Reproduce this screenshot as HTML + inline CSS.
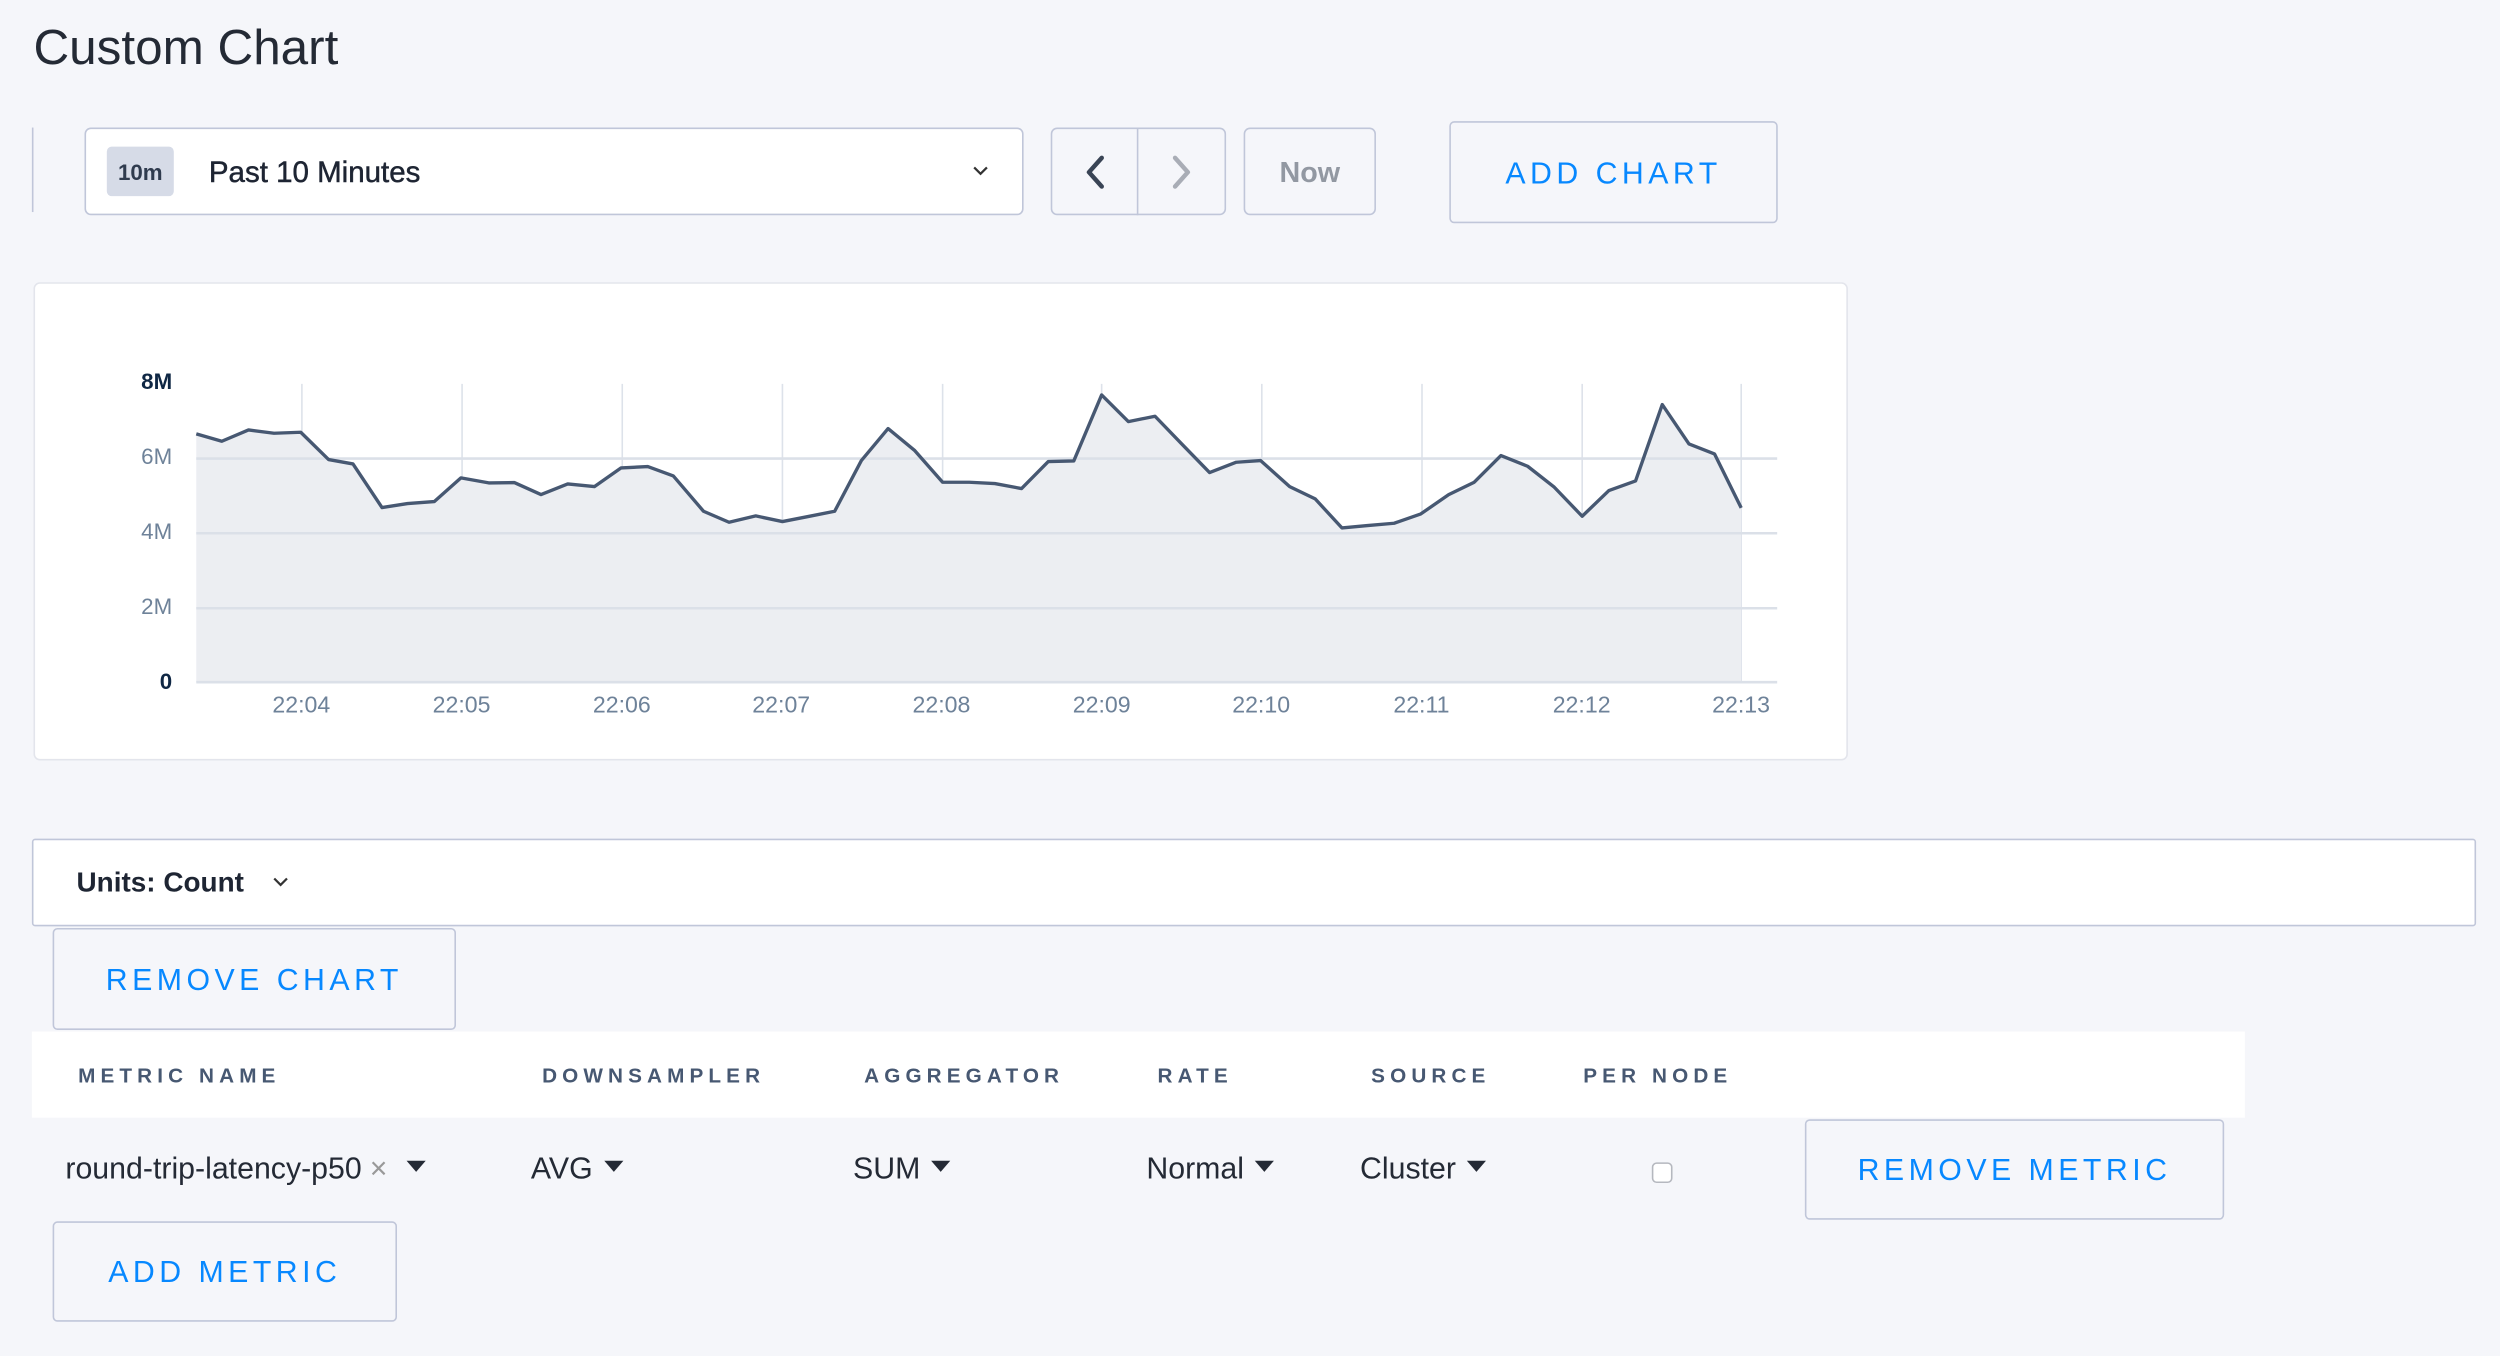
<!DOCTYPE html>
<html><head><meta charset="utf-8"><style>
html,body{margin:0;padding:0;background:#f5f6fa;}
body{width:2500px;height:1356px;overflow:hidden;}
#root{position:absolute;left:0;top:0;width:1568px;height:850.5px;transform:scale(1.5944);transform-origin:0 0;font-family:"Liberation Sans",sans-serif;color:#242a35;}
.a{position:absolute;}
.box{position:absolute;box-sizing:border-box;border:1px solid #c0c6d9;border-radius:4px;}
.btn{position:absolute;box-sizing:border-box;border:1px solid #c0c6d9;border-radius:3px;color:#0788ff;font-size:19px;letter-spacing:2.8px;display:flex;align-items:center;justify-content:center;padding-top:3px;}
.hd{position:absolute;top:667px;font-size:13px;font-weight:bold;letter-spacing:3.2px;color:#475872;}
.cell{position:absolute;top:723px;font-size:19px;color:#242a35;}
.car{display:inline-block;width:0;height:0;border-left:6px solid transparent;border-right:6px solid transparent;border-top:7px solid #242a35;vertical-align:middle;margin-left:7px;position:relative;top:-2px;}
.yl{position:absolute;width:40px;left:68px;text-align:right;font-size:14px;color:#6e8299;line-height:14px;}
.xl{position:absolute;top:435px;width:60px;text-align:center;font-size:14.5px;color:#6e8299;}
</style></head><body><div id="root">
<div class="a" style="left:21px;top:12px;font-size:31px;color:#242a35;">Custom Chart</div>
<div class="a" style="left:20px;top:80px;width:1px;height:53px;background:#c0c6d9;"></div>
<div class="box" style="left:53px;top:80px;width:589px;height:55px;background:#fff;"></div>
<div class="a" style="left:67px;top:92px;width:42px;height:31px;background:#d6dbe7;border-radius:3px;font-size:14px;font-weight:bold;color:#2f3b4e;display:flex;align-items:center;justify-content:center;">10m</div>
<div class="a" style="left:131px;top:97px;font-size:18.5px;color:#1e2533;-webkit-text-stroke:0.3px #1e2533;">Past 10 Minutes</div>
<svg class="a" style="left:609px;top:102px" width="12" height="10"><polyline points="2,3 6,7 10,3" fill="none" stroke="#333" stroke-width="1.4"/></svg>
<div class="box" style="left:659px;top:80px;width:110px;height:55px;"></div>
<div class="a" style="left:713px;top:80px;width:1px;height:55px;background:#c0c6d9;"></div>
<svg class="a" style="left:676px;top:96px" width="22" height="24"><polyline points="15,3 7,12 15,21" fill="none" stroke="#394455" stroke-width="2.8" stroke-linecap="round" stroke-linejoin="round"/></svg>
<svg class="a" style="left:730px;top:96px" width="22" height="24"><polyline points="7,3 15,12 7,21" fill="none" stroke="#a9adb6" stroke-width="2.8" stroke-linecap="round" stroke-linejoin="round"/></svg>
<div class="box" style="left:780px;top:80px;width:83px;height:55px;display:flex;align-items:center;justify-content:center;font-size:18px;font-weight:bold;color:#9298a2;padding-top:1px;">Now</div>
<div class="btn" style="left:909px;top:76px;width:206px;height:64px;">ADD CHART</div>

<div class="a" style="left:21px;top:177px;width:1138px;height:300px;box-sizing:border-box;background:#fff;border:1px solid #e3e5ec;border-radius:4px;"></div>
<svg class="a" style="left:18.8px;top:175.6px" width="1141.5" height="301" viewBox="0 0 1568 1440" preserveAspectRatio="none">
<g stroke="#dde2ea" stroke-width="1">
<line x1="234" y1="310" x2="234" y2="1205" vector-effect="non-scaling-stroke"/>
<line x1="372" y1="310" x2="372" y2="1205" vector-effect="non-scaling-stroke"/>
<line x1="510" y1="310" x2="510" y2="1205" vector-effect="non-scaling-stroke"/>
<line x1="648" y1="310" x2="648" y2="1205" vector-effect="non-scaling-stroke"/>
<line x1="786" y1="310" x2="786" y2="1205" vector-effect="non-scaling-stroke"/>
<line x1="923" y1="310" x2="923" y2="1205" vector-effect="non-scaling-stroke"/>
<line x1="1061" y1="310" x2="1061" y2="1205" vector-effect="non-scaling-stroke"/>
<line x1="1199" y1="310" x2="1199" y2="1205" vector-effect="non-scaling-stroke"/>
<line x1="1337" y1="310" x2="1337" y2="1205" vector-effect="non-scaling-stroke"/>
<line x1="1474" y1="310" x2="1474" y2="1205" vector-effect="non-scaling-stroke"/>
</g>
<polygon fill="#eceef2" points="143,1205 143,460 165,482 188,448 210,458 233,455 257,537 278,550 303,681 325,669 348,663 371,592 395,607 417,606 440,642 463,610 486,618 509,562 532,558 554,586 580,692 602,725 625,706 648,723 670,708 693,692 716,540 739,444 762,510 786,605 809,605 831,609 854,624 877,543 899,541 923,343 946,423 969,407 992,490 1016,576 1039,545 1060,540 1085,618 1107,655 1130,742 1152,735 1175,728 1198,700 1222,642 1244,605 1267,525 1290,557 1313,620 1337,707 1360,630 1383,601 1406,372 1429,490 1451,520 1474,682 1474,1205"/>
<g stroke="#dbe0e8" stroke-width="1.6">
<line x1="143" y1="534" x2="1505" y2="534" vector-effect="non-scaling-stroke"/>
<line x1="143" y1="758" x2="1505" y2="758" vector-effect="non-scaling-stroke"/>
<line x1="143" y1="983" x2="1505" y2="983" vector-effect="non-scaling-stroke"/>
<line x1="143" y1="1205" x2="1505" y2="1205" vector-effect="non-scaling-stroke"/>
</g>
<polyline fill="none" stroke="#475872" stroke-width="2.1" stroke-linejoin="round" vector-effect="non-scaling-stroke" points="143,460 165,482 188,448 210,458 233,455 257,537 278,550 303,681 325,669 348,663 371,592 395,607 417,606 440,642 463,610 486,618 509,562 532,558 554,586 580,692 602,725 625,706 648,723 670,708 693,692 716,540 739,444 762,510 786,605 809,605 831,609 854,624 877,543 899,541 923,343 946,423 969,407 992,490 1016,576 1039,545 1060,540 1085,618 1107,655 1130,742 1152,735 1175,728 1198,700 1222,642 1244,605 1267,525 1290,557 1313,620 1337,707 1360,630 1383,601 1406,372 1429,490 1451,520 1474,682"/>
</svg>
<div class="yl" style="top:232px;font-weight:bold;color:#0f2744;">8M</div>
<div class="yl" style="top:279px;">6M</div>
<div class="yl" style="top:326px;">4M</div>
<div class="yl" style="top:373px;">2M</div>
<div class="yl" style="top:420px;font-weight:bold;color:#0f2744;">0</div>
<div class="xl" style="left:159px;">22:04</div>
<div class="xl" style="left:259.5px;">22:05</div>
<div class="xl" style="left:360px;">22:06</div>
<div class="xl" style="left:460px;">22:07</div>
<div class="xl" style="left:560.5px;">22:08</div>
<div class="xl" style="left:661px;">22:09</div>
<div class="xl" style="left:761px;">22:10</div>
<div class="xl" style="left:861.5px;">22:11</div>
<div class="xl" style="left:962px;">22:12</div>
<div class="xl" style="left:1062px;">22:13</div>

<div class="box" style="left:20px;top:526px;width:1533px;height:55px;background:#fff;border-radius:2px;"></div>
<div class="a" style="left:48px;top:543px;font-size:17.5px;font-weight:bold;color:#1e2533;">Units: Count</div>
<svg class="a" style="left:170px;top:548px" width="12" height="10"><polyline points="2,3 6,7 10,3" fill="none" stroke="#333" stroke-width="1.4"/></svg>
<div class="btn" style="left:33px;top:582px;width:253px;height:64px;">REMOVE CHART</div>
<div class="a" style="left:20px;top:647px;width:1388px;height:54px;background:#fff;"></div>
<div class="hd" style="left:49px;">METRIC NAME</div>
<div class="hd" style="left:340px;">DOWNSAMPLER</div>
<div class="hd" style="left:542px;">AGGREGATOR</div>
<div class="hd" style="left:726px;">RATE</div>
<div class="hd" style="left:860px;">SOURCE</div>
<div class="hd" style="left:993px;">PER NODE</div>
<div class="cell" style="left:41px;">round-trip-latency-p50<span style="color:#999;margin-left:5px;">×</span><span class="car" style="margin-left:12px;"></span></div>
<div class="cell" style="left:333px;">AVG<span class="car"></span></div>
<div class="cell" style="left:535px;">SUM<span class="car"></span></div>
<div class="cell" style="left:719px;">Normal<span class="car"></span></div>
<div class="cell" style="left:853px;">Cluster<span class="car"></span></div>
<div class="a" style="left:1036px;top:729px;width:13px;height:13px;box-sizing:border-box;border:1px solid #b5b8bf;border-radius:3px;background:#fff;"></div>
<div class="btn" style="left:1132px;top:702px;width:263px;height:63px;">REMOVE METRIC</div>
<div class="btn" style="left:33px;top:766px;width:216px;height:63px;">ADD METRIC</div>
</div></body></html>
